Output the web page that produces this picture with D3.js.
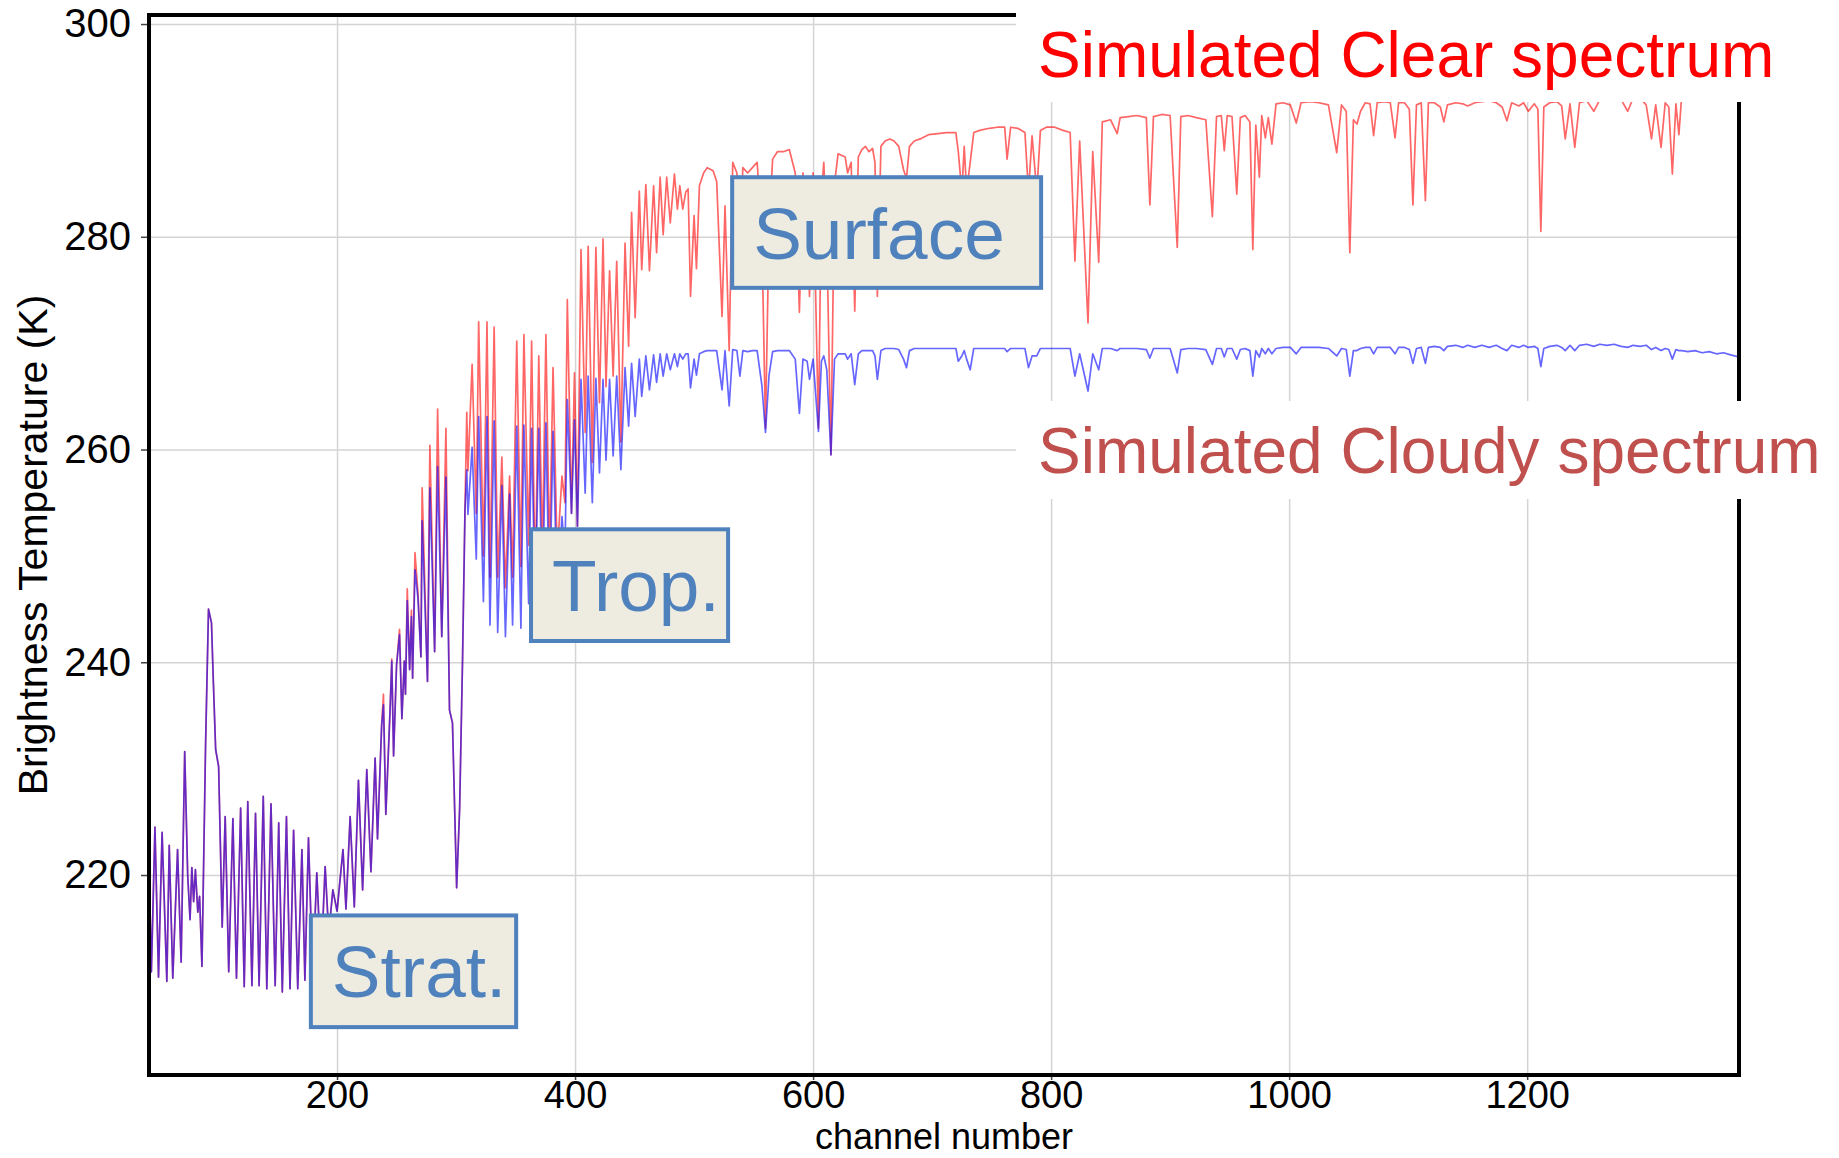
<!DOCTYPE html>
<html>
<head>
<meta charset="utf-8">
<script src="https://cdn.jsdelivr.net/npm/d3@7"></script>
<style>
  body { margin: 0; background: #fff; }
  svg { display: block; font-family: "Liberation Sans", Arial, sans-serif; }
</style>
</head>
<body>
<svg id="chart" width="1839" height="1158"></svg>
<script>
// channel numbers (shared by both spectra)
const channels = [
  42,44,47,50,53,57,59,62,66,69,
  72,74.5,76.5,78,79.5,81,83,84.5,86.5,89.5,
  92,94.5,96,98,100.5,102,103.5,106,109,112.5,
  115.5,119,122,125,128.5,131.5,134.5,138,141,144.5,
  148,151,154,157.5,160.5,163.5,167,170.5,173,176,
  179.5,183,186.5,190,193,196.5,200,205,207.5,211,
  214.5,218,221.5,225,228.5,232,234,237.5,239,241,
  244.5,246,247.5,250,252.5,254.5,256.5,257.5,259,261,
  262.5,263.5,265.5,268,270.5,271.5,276,278,282,284.5,
  288,291.5,294.5,297,300.5,303,305.5,307.5,309,310,
  313.5,317,319,323,326,328.5,332,335,338.5,341.5,
  345,347.5,351,354.5,357,361,363.5,366.5,369.5,372.5,
  375.5,378.5,381.5,385,389,391.5,393.5,397,399.5,402,
  405,408.5,411,414.5,417.5,420.5,423.5,426,429,432,
  435,438.5,442,445,447.5,450.5,454,456,459.5,462.5,
  466,468.5,471.5,474,477,480,483.5,486,488,490.5,
  493,495,497,500,502,504.5,508,511,516,519,
  523.5,526,529.5,532.5,536,538.5,541,545,549,553,
  557,560,563,566,570,575,580,585,588.5,591.5,
  595,597,600,604.5,607,609,611.5,615,618,621,
  627,629,632,635,638,641,644,647,650,652,
  654,657,660.5,664.5,668,672,676,678.5,681,685,
  690,697,705,712,720,722,725,727,729,732,
  735,740,748,755,761,763,766,772,778,781,
  784,788,791,796,803,810,816,820,824,831,
  835,840,843,850,855.5,858,865,872,880,883,
  886,893,900,906,909,915,922,930,935.5,939,
  943,945.5,948,952,956,959,963,967,969.5,972,
  975,977,980,982.5,985.5,989,995,1001,1006,1010,
  1018,1025,1033,1040,1044,1048,1051,1054,1057,1060,
  1064,1068,1071,1074,1080,1085,1089,1092,1097,1101,
  1104,1107,1111,1114.5,1117,1122,1127,1130,1133,1140,
  1146,1150,1156,1162,1168,1174,1179,1183,1187,1193,
  1197,1201,1206,1209,1211.5,1214,1219,1225,1229,1232,
  1236,1240,1244,1250,1256,1261,1267,1273,1279,1284.5,
  1289,1295,1300,1304.5,1308,1312.5,1316,1319,1322,1325,
  1327.5,1330,1335,1341,1347,1353,1359,1365,1371,1378
];

// simulated clear-sky brightness temperature (K)
const clearBT = [
  221,210.9,224.5,210.4,224,210,222.8,210.3,222.4,211.8,
  231.6,220,215.8,220.7,217.5,220.5,216.5,218,211.4,232,
  245,243.7,238.4,231.8,230.2,222.7,215.1,225.5,210.9,225.3,
  210.3,226.3,209.5,226.9,209.6,225.8,209.6,227.4,209.3,226.7,
  209.6,224.9,209.0,225.5,209.3,224.2,209.3,222.4,210.1,223.5,
  210.5,220.2,211.5,220.8,214.5,218.6,216.6,222.4,216.8,225.5,
  217,228.9,218.6,229.9,220.3,231,223.4,234.1,237,225.7,
  235.3,240.3,231.2,239.7,243.1,234.7,240.1,237,246.9,239.3,
  244.9,238.5,250.3,246.5,240.5,256.4,238.2,260.4,241,263.8,
  242.4,262,235.5,234.3,218.8,226.2,240.5,254.3,263.5,258,
  268,254,272,250,272,248,271.5,248,259.3,247,
  257.5,248,270.2,249,270.8,251,270.2,247,268.8,250,
  270.8,250,267.7,250,257.5,255,274.1,254,267.2,252.8,
  278.8,261.6,279.1,258.8,279,264.4,279.8,265.9,276.8,266.9,
  277.7,260.7,279.4,269.7,282.3,272.4,284.3,276.9,284.9,276.8,
  284.8,278.5,285.6,280.2,285.6,281.3,285.9,282.6,284.8,282.6,
  284.2,284.5,274.4,282,277,284.8,286,286.5,286.2,285.2,
  272.5,282.9,269.3,287,286,280,286.5,286,286.5,287,
  280,262,281,287.3,288,288,288.2,286,272.9,286,
  282,274.4,286,262,284,287,280,259.5,285,287.8,
  287.5,286,287,273,287.5,288.2,288.5,288,288.3,287,
  274.4,288.5,289,289.2,289,288.5,286.3,285.5,288.5,289,
  289.2,289.6,289.7,289.8,289.8,288,284.2,288.5,284.2,287,
  289.8,290,290.2,290.3,290.3,287.3,290.3,290.2,289.8,284.2,
  289.5,284.2,290,290.3,290.3,290,289.8,277.7,289,271.9,
  288,277.6,290.8,291,289.7,291.2,291.3,291.4,291.2,283,
  291.3,291.5,291.4,279,291.3,291.4,291.2,291,281.9,291.3,
  291.4,288.1,291.4,291.3,284,291.2,291.4,290.8,278.8,290.5,
  285.6,291.4,289.3,291.2,288.7,292.5,292.6,292.4,290.7,292.6,
  292.7,292.6,292.4,287.9,292.4,291.8,278.5,291,290.6,291.8,
  292.6,292.5,289.5,292.6,292.7,292.6,289.3,292.6,292.6,292,
  283,292.4,292.6,283.4,292.6,292.6,292.2,290.8,292.4,292.6,
  292.5,292.3,292.6,292.7,292.8,292.6,292.2,290.9,292.6,292.3,
  292.6,291.8,292.5,292,280.5,292.2,292.6,292.7,292.3,289.2,
  292.5,288.4,292.6,292.8,291.8,292.9,293,293,292.9,291.8,
  293,293,292.4,289.2,292.4,288.4,292.6,292.2,285.9,292.5,
  289.6,293.5,293.6,293.6,293.7,293.6,293.7,293.7,293.6,293.7
];

// simulated cloudy brightness temperature (K)
const cloudyBT = [
  221,210.9,224.5,210.4,224,210,222.8,210.3,222.4,211.8,
  231.6,220,215.8,220.7,217.5,220.5,216.5,218,211.4,232,
  245,243.7,238.4,231.8,230.2,222.7,215.1,225.5,210.9,225.3,
  210.3,226.3,209.5,226.9,209.6,225.8,209.6,227.4,209.3,226.7,
  209.6,224.9,209.0,225.5,209.3,224.2,209.3,222.4,210.1,223.5,
  210.5,220.2,211.5,220.8,214.5,218.6,216.6,222.4,216.8,225.5,
  217,228.9,218.6,229.9,220.3,231,223.4,234.1,236,225.7,
  235.3,240.1,231.2,239.7,242.6,234.7,240.1,237,245.8,239.3,
  244.3,238.5,248.7,246,240.5,253.3,238.2,256.4,241,258.4,
  242.4,257.4,235.5,234.3,218.8,226.2,240.5,254.3,258.1,253.9,
  260.2,249.7,263.1,245.7,263.1,243.5,262.7,242.8,256.6,242.4,
  255.8,243.5,262.2,243.2,262.3,245.5,262,245,262,245,
  262.5,245,261.7,246,253.7,250,264.7,254,262.8,252.8,
  266.6,255.9,266.9,255,266.7,257.8,266.6,259,266.6,259.4,
  266.9,258.1,267.7,262.2,268.1,263.1,268.5,265,268.8,265.6,
  268.9,266.3,269,266.9,269,267.5,269,267.8,269,268.5,
  269,269,265.8,268.5,267,269,269.2,269.3,269.3,269.3,
  265.6,269.3,264.1,269.4,269.3,266.9,269.3,269.2,269.3,269.3,
  266,261.6,267,269.2,269.3,269.3,269.3,268.5,263.4,268.5,
  268.3,266.6,268.5,261.7,268.3,268.8,267.5,259.5,268.5,269,
  269,268.5,269,266.1,269,269.3,269.3,269.3,269.3,268.8,
  266.6,269.3,269.5,269.5,269.5,269.4,268.5,267.7,269.3,269.5,
  269.5,269.5,269.5,269.5,269.5,268.3,268.8,269.3,268.5,267.5,
  269.5,269.5,269.5,269.5,269.5,269.2,269.5,269.5,269.5,267.7,
  268.8,268.8,269.5,269.5,269.5,269.5,269.5,266.9,269,265.5,
  269,267.5,269.5,269.5,269.3,269.5,269.5,269.5,269.4,268.6,
  269.5,269.5,269.5,267.2,269.4,269.5,269.5,269.4,268,269.5,
  269.5,268.7,269.5,269.5,268.5,269.4,269.5,269.3,266.9,269.3,
  268.7,269.5,269,269.5,269,269.5,269.6,269.6,269,269.6,
  269.6,269.6,269.5,268.8,269.5,269.4,266.9,269.3,269.3,269.5,
  269.6,269.6,269,269.6,269.6,269.6,269,269.6,269.6,269.4,
  268.1,269.5,269.6,268.1,269.6,269.7,269.6,269.3,269.7,269.8,
  269.6,269.8,269.6,269.8,269.6,269.8,269.5,269.3,269.8,269.6,
  269.8,269.6,269.7,269.5,267.8,269.5,269.7,269.8,269.6,269.3,
  269.8,269.3,269.8,269.9,269.7,269.9,269.8,269.9,269.7,269.6,
  269.8,269.7,269.8,269.4,269.6,269.3,269.5,269.4,268.5,269.4,
  269.3,269.3,269.2,269.3,269.1,269.2,269,269.1,268.9,268.7
];

const xTicks = [200, 400, 600, 800, 1000, 1200];
const yTicks = [220, 240, 260, 280, 300];
const seriesNames = ["Simulated Clear spectrum", "Simulated Cloudy spectrum"];
const regionNames = ["Strat.", "Trop.", "Surface"];

// layout
const plot = {left: 149, right: 1739, top: 15, bottom: 1075};
const xDomain = [42, 1378];
const yDomain = [201.2, 300.85];
// annotation boxes, in data units (channel, K)
const regionBoxes = [
  {c0: 178, c1: 350.5, t0: 216.2, t1: 205.7},
  {c0: 363, c1: 528.6, t0: 252.5, t1: 242.0},
  {c0: 532, c1: 791.6, t0: 285.6, t1: 275.2}
];

const svg = d3.select("#chart");
const x = d3.scaleLinear().domain(xDomain).range([plot.left, plot.right]);
const y = d3.scaleLinear().domain(yDomain).range([plot.bottom, plot.top]);

const clearData = channels.map((c, i) => ({ch: c, bt: clearBT[i]}));
const cloudyData = channels.map((c, i) => ({ch: c, bt: cloudyBT[i]}));

// grid
svg.append("g")
    .attr("transform", `translate(0,${plot.bottom})`)
    .call(d3.axisBottom(x).tickValues(xTicks).tickSize(-(plot.bottom - plot.top)).tickFormat(""))
    .call(g => g.select(".domain").remove())
    .selectAll("line").attr("stroke", "#d4d4d4").attr("stroke-width", 1.5);
svg.append("g")
    .attr("transform", `translate(${plot.left},0)`)
    .call(d3.axisLeft(y).tickValues(yTicks).tickSize(-(plot.right - plot.left)).tickFormat(""))
    .call(g => g.select(".domain").remove())
    .selectAll("line").attr("stroke", "#d4d4d4").attr("stroke-width", 1.5);

// spectra
const line = d3.line().x(d => x(d.ch)).y(d => y(d.bt));
svg.append("path").datum(clearData)
    .attr("d", line).attr("fill", "none")
    .attr("stroke", "#ff0000").attr("stroke-opacity", 0.6)
    .attr("stroke-width", 1.7).attr("stroke-linejoin", "round");
svg.append("path").datum(cloudyData)
    .attr("d", line).attr("fill", "none")
    .attr("stroke", "#0000ff").attr("stroke-opacity", 0.6)
    .attr("stroke-width", 1.7).attr("stroke-linejoin", "round");

// axes
const xAxis = svg.append("g")
    .attr("transform", `translate(0,${plot.bottom})`)
    .call(d3.axisBottom(x).tickValues(xTicks).tickFormat(d3.format("d")).tickSize(5).tickPadding(1));
const yAxis = svg.append("g")
    .attr("transform", `translate(${plot.left},0)`)
    .call(d3.axisLeft(y).tickValues(yTicks).tickFormat(d3.format("d")).tickSize(8).tickPadding(10));
[xAxis, yAxis].forEach(g => {
  g.select(".domain").remove();
  g.selectAll("line").attr("stroke", "#444").attr("stroke-width", 1.5);
  g.selectAll("text").attr("fill", "#000")
      .style("font-family", "'Liberation Sans', Arial, sans-serif");
});
xAxis.selectAll("text").style("font-size", "38px");
yAxis.selectAll("text").style("font-size", "40px");

// frame
svg.append("rect")
    .attr("x", plot.left).attr("y", plot.top)
    .attr("width", plot.right - plot.left).attr("height", plot.bottom - plot.top)
    .attr("fill", "none").attr("stroke", "#000").attr("stroke-width", 4);

// axis titles
svg.append("text")
    .attr("x", (plot.left + plot.right) / 2).attr("y", 1149)
    .attr("text-anchor", "middle").style("font-size", "36px").attr("fill", "#000")
    .text("channel number");
svg.append("text")
    .attr("transform", `translate(47,${(plot.top + plot.bottom) / 2}) rotate(-90)`)
    .attr("text-anchor", "middle").style("font-size", "41px").attr("fill", "#000")
    .text("Brightness Temperature (K)");

// region annotations
regionBoxes.forEach((b, i) => {
  const g = svg.append("g");
  g.append("rect")
      .attr("x", x(b.c0)).attr("y", y(b.t0))
      .attr("width", x(b.c1) - x(b.c0)).attr("height", y(b.t1) - y(b.t0))
      .attr("fill", "#eeece1").attr("stroke", "#4f81bd").attr("stroke-width", 4);
  g.append("text")
      .attr("x", x(b.c0) + 21).attr("y", y(b.t0) + 82)
      .attr("fill", "#4f81bd").style("font-size", "73px")
      .text(regionNames[i]);
});

// series labels on white patches
const labelColors = ["#ff0000", "#c0504d"];
const labelPatches = [{y0: 0, y1: 102, base: 77}, {y0: 401, y1: 499, base: 473}];
labelPatches.forEach((p, i) => {
  svg.append("rect")
      .attr("x", 1016).attr("y", p.y0)
      .attr("width", 1839 - 1016).attr("height", p.y1 - p.y0)
      .attr("fill", "#fff");
  svg.append("text")
      .attr("x", 1038).attr("y", p.base)
      .attr("fill", labelColors[i]).style("font-size", "64px")
      .text(seriesNames[i]);
});
</script>
</body>
</html>
